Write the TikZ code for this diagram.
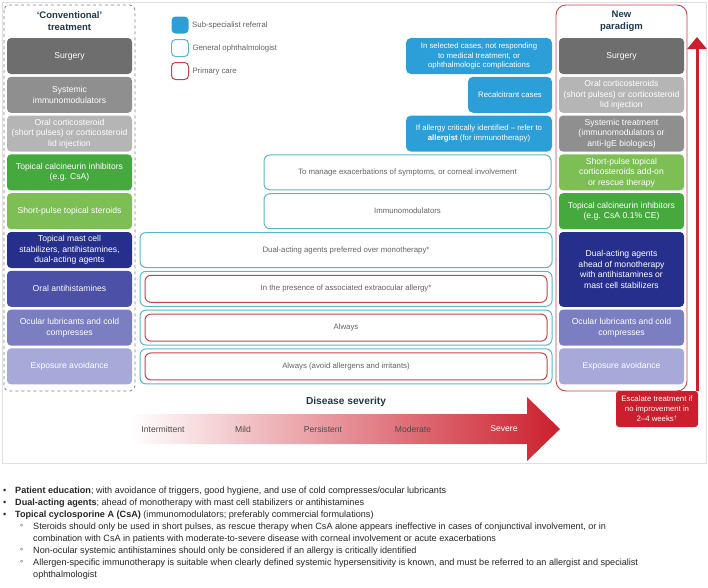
\documentclass[tikz,border=0pt]{standalone}
\usepackage{fontspec}
\setmainfont{Liberation Sans}
\usetikzlibrary{arrows.meta}

\definecolor{grayA}{HTML}{6E6E6E}
\definecolor{grayB}{HTML}{8F8F8F}
\definecolor{grayC}{HTML}{B5B5B5}
\definecolor{greenA}{HTML}{45A93D}
\definecolor{greenB}{HTML}{7DBF55}
\definecolor{navyA}{HTML}{26308C}
\definecolor{blueB}{HTML}{4C50A7}
\definecolor{blueC}{HTML}{7B7EC0}
\definecolor{blueD}{HTML}{A7A9D9}
\definecolor{subblue}{HTML}{2C9FD8}
\definecolor{gotteal}{HTML}{5BB6C6}
\definecolor{pcred}{HTML}{C4424A}
\definecolor{sevred}{HTML}{CC1F2D}
\definecolor{sevpink}{HTML}{EAA4AB}
\definecolor{titlecol}{HTML}{1E3A4C}
\definecolor{txtgray}{HTML}{626262}

\newcommand\bxfont{\fontsize{8.6}{10.6}\selectfont}
\newcommand\smfont{\fontsize{7.8}{9.4}\selectfont}

\tikzset{
  fillbox/.style={rounded corners=4pt, minimum width=125pt, minimum height=36pt,
    inner sep=1pt, align=center, text=white, font=\bxfont},
  subbox/.style={fill=subblue, rounded corners=5pt, minimum height=36pt,
    inner sep=1pt, align=center, text=white, font=\smfont},
  gobox/.style={draw=gotteal, line width=1pt, rounded corners=6pt, minimum height=35pt,
    inner sep=1pt, align=center, text=txtgray, font=\smfont},
  pcbox/.style={draw=pcred, line width=1pt, rounded corners=6pt, minimum height=27pt,
    minimum width=402pt, inner sep=1pt, align=center, text=txtgray, font=\smfont},
  keybox/.style={rounded corners=4pt, minimum width=17pt, minimum height=17pt, inner sep=0pt},
  sevlabel/.style={font=\fontsize{8.6}{10}\selectfont, text=black!70},
  noteline/.style={anchor=west, inner sep=0pt, font=\fontsize{9.1}{11}\selectfont, text=black!85},
}

\begin{document}
\begin{tikzpicture}[x=1pt,y=-1pt]
\useasboundingbox (0,0) rectangle (708,587);

% frame of the figure
\draw[black!12, line width=0.8pt] (2,2) rectangle (706,463);

% 'conventional' column
\draw[black!50, dashed, line width=0.8pt, rounded corners=5pt] (4,5) rectangle (135,391);
\node[font=\bfseries\fontsize{9.5}{12}\selectfont, text=titlecol, align=center] (convtitle) at (69.5,21) {`Conventional'\\treatment};
\node[fillbox, fill=grayA] (lsurgery) at (69.5,56) {Surgery};
\node[fillbox, fill=grayB] (lsystemic) at (69.5,94.8) {Systemic\\immunomodulators};
\node[fillbox, fill=grayC] (loral) at (69.5,133.6) {Oral corticosteroid\\(short pulses) or corticosteroid\\lid injection};
\node[fillbox, fill=greenA] (lcalci) at (69.5,172.4) {Topical calcineurin inhibitors\\(e.g. CsA)};
\node[fillbox, fill=greenB] (lpulse) at (69.5,211.2) {Short-pulse topical steroids};
\node[fillbox, fill=navyA] (lmast) at (69.5,250) {Topical mast cell\\stabilizers, antihistamines,\\dual-acting agents};
\node[fillbox, fill=blueB] (lantihist) at (69.5,288.8) {Oral antihistamines};
\node[fillbox, fill=blueC] (llubric) at (69.5,327.6) {Ocular lubricants and cold\\compresses};
\node[fillbox, fill=blueD] (lavoid) at (69.5,366.4) {Exposure avoidance};

% new paradigm column
\draw[pcred, line width=0.9pt, rounded corners=10pt] (556,5) rectangle (687,391);
\node[font=\bfseries\fontsize{9.5}{12}\selectfont, text=titlecol, align=center] (newtitle) at (621.5,21) {New\\paradigm};
\node[fillbox, fill=grayA] (rsurgery) at (621.5,56) {Surgery};
\node[fillbox, fill=grayC] (roral) at (621.5,94.8) {Oral corticosteroids\\(short pulses) or corticosteroid\\lid injection};
\node[fillbox, fill=grayB] (rsystemic) at (621.5,133.6) {Systemic treatment\\(immunomodulators or\\anti-IgE biologics)};
\node[fillbox, fill=greenB] (rpulse) at (621.5,172.4) {Short-pulse topical\\corticosteroids add-on\\or rescue therapy};
\node[fillbox, fill=greenA] (rcalci) at (621.5,211.2) {Topical calcineurin inhibitors\\(e.g. CsA 0.1\% CE)};
\node[fillbox, fill=navyA, minimum height=74.8pt] (rdual) at (621.5,269.4) {Dual-acting agents\\ahead of monotherapy\\with antihistamines or\\mast cell stabilizers};
\node[fillbox, fill=blueC] (rlubric) at (621.5,327.6) {Ocular lubricants and cold\\compresses};
\node[fillbox, fill=blueD] (ravoid) at (621.5,366.4) {Exposure avoidance};

% legend
\node[keybox, fill=subblue] (keysub) at (180,25) {};
\node[keybox, draw=gotteal, line width=1pt] (keygo) at (180,48) {};
\node[keybox, draw=pcred, line width=1pt] (keypc) at (180,71) {};
\node[anchor=west, font=\smfont, text=txtgray] at (keysub.east) {Sub-specialist referral};
\node[anchor=west, font=\smfont, text=txtgray] at (keygo.east) {General ophthalmologist};
\node[anchor=west, font=\smfont, text=txtgray] at (keypc.east) {Primary care};

% who treats
\node[subbox, minimum width=146pt] (selected) at (479,56) {In selected cases, not responding\\to medical treatment, or\\ophthalmologic complications};
\node[subbox, minimum width=84pt] (recalc) at (510,94.8) {Recalcitrant cases};
\node[subbox, minimum width=146pt] (allergy) at (479,133.6) {If allergy critically identified -- refer to\\\textbf{allergist} (for immunotherapy)};
\node[gobox, minimum width=287pt] (exacerb) at (407.5,172.4) {To manage exacerbations of symptoms, or corneal involvement};
\node[gobox, minimum width=287pt] (immuno) at (407.5,211.2) {Immunomodulators};
\node[gobox, minimum width=412pt] (dualpref) at (346,250) {Dual-acting agents preferred over monotherapy*};
\node[gobox, minimum width=412pt] (presout) at (346,288.8) {};
\node[pcbox] (presence) at (346,288.8) {In the presence of associated extraocular allergy*};
\node[gobox, minimum width=412pt] (alwout) at (346,327.6) {};
\node[pcbox] (always) at (346,327.6) {Always};
\node[gobox, minimum width=412pt] (avoidout) at (346,366.4) {};
\node[pcbox] (alwavoid) at (346,366.4) {Always (avoid allergens and irritants)};

% disease severity
\node[font=\bfseries\fontsize{10.2}{12}\selectfont, text=titlecol] (sevtitle) at (346,402) {Disease severity};
\shade[left color=white, middle color=sevpink, right color=sevred]
  (130,414) -- (527,414) -- (527,397) -- (560,429) -- (527,461) -- (527,444) -- (130,444) -- cycle;
\node[sevlabel] (intermit) at (163,429) {Intermittent};
\node[sevlabel] (mild) at (243,429) {Mild};
\node[sevlabel] (persist) at (323,429) {Persistent};
\node[sevlabel] (moderate) at (413,429) {Moderate};
\node[sevlabel, text=white] (severe) at (504,429) {Severe};

% escalation
\node[fill=sevred, rounded corners=3pt, minimum width=82pt, minimum height=36pt, inner sep=1pt,
  align=center, text=white, font=\fontsize{7.8}{10.2}\selectfont] (escal) at (657,409) {Escalate treatment if\\no improvement in\\2--4 weeks\textsuperscript{†}};
\coordinate (esctop) at (697,37);
\draw[sevred, line width=3pt, -{Triangle[width=19pt,length=12pt]}] (escal.north -| esctop) -- (esctop);

% notes
\node[noteline] (b1) at (3,491) {•};
\node[noteline] (n1) at (15,491) {\textbf{Patient education}; with avoidance of triggers, good hygiene, and use of cold compresses/ocular lubricants};
\node[noteline] (b2) at (3,503) {•};
\node[noteline] (n2) at (15,503) {\textbf{Dual-acting agents}; ahead of monotherapy with mast cell stabilizers or antihistamines};
\node[noteline] (b3) at (3,515) {•};
\node[noteline] (n3) at (15,515) {\textbf{Topical cyclosporine A (CsA)} (immunomodulators; preferably commercial formulations)};
\node[noteline] (c4) at (20,527) {◦};
\node[noteline] (n4) at (33,527) {Steroids should only be used in short pulses, as rescue therapy when CsA alone appears ineffective in cases of conjunctival involvement, or in};
\node[noteline] (n5) at (33,539) {combination with CsA in patients with moderate-to-severe disease with corneal involvement or acute exacerbations};
\node[noteline] (c6) at (20,551) {◦};
\node[noteline] (n6) at (33,551) {Non-ocular systemic antihistamines should only be considered if an allergy is critically identified};
\node[noteline] (c7) at (20,563) {◦};
\node[noteline] (n7) at (33,563) {Allergen-specific immunotherapy is suitable when clearly defined systemic hypersensitivity is known, and must be referred to an allergist and specialist};
\node[noteline] (n8) at (33,575) {ophthalmologist};
\end{tikzpicture}
\end{document}
